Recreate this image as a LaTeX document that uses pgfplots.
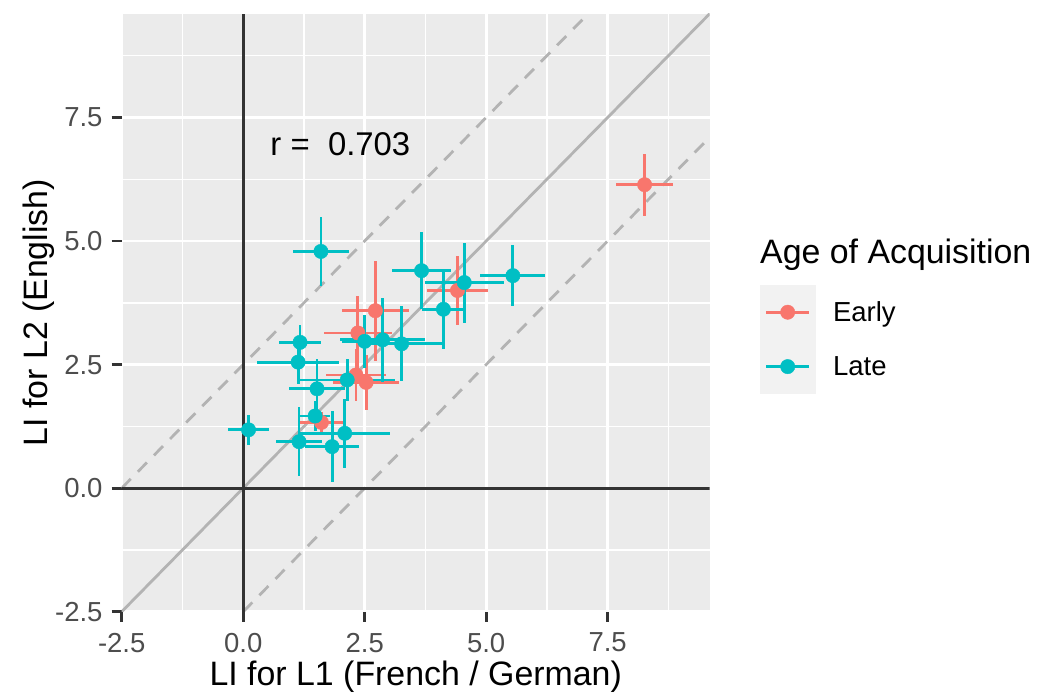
\documentclass[border=0pt]{standalone}
\usepackage{fontspec}
\setmainfont{Liberation Sans}
\usepackage{pgfplots}
\pgfplotsset{compat=1.18}
\usepackage{pgfplotstable}
\definecolor{ggred}{HTML}{F8766D}
\definecolor{ggteal}{HTML}{00BFC4}
\definecolor{panelbg}{HTML}{EBEBEB}
\definecolor{keybg}{HTML}{F2F2F2}
\definecolor{gthirty}{HTML}{4D4D4D}
\definecolor{gtwenty}{HTML}{333333}
\definecolor{refline}{HTML}{B3B3B3}

\pgfplotstableread{
x y ex ey
2.72 3.59 0.69 1.01
2.36 3.14 0.70 0.74
4.41 4.00 0.63 0.69
2.32 2.29 0.62 0.52
2.53 2.14 0.68 0.56
1.61 1.33 0.48 0.22
8.26 6.14 0.59 0.63
}\early

\pgfplotstableread{
x y ex ey
1.60 4.79 0.58 0.69
3.67 4.40 0.60 0.78
4.55 4.16 0.81 0.81
4.12 3.62 0.45 0.80
5.55 4.30 0.67 0.61
3.26 2.92 0.86 0.76
2.50 2.97 0.47 0.54
2.87 3.00 0.88 0.85
2.14 2.19 0.99 0.43
1.13 2.55 0.85 0.45
1.17 2.95 0.43 0.35
1.52 2.01 0.57 0.60
1.48 1.46 0.31 0.31
1.15 0.94 0.48 0.70
1.83 0.84 0.56 0.72
2.09 1.11 0.93 0.70
0.11 1.18 0.43 0.30
}\late

\begin{document}
\begin{tikzpicture}
\path[use as bounding box] (0,0) rectangle (1041bp,694bp);
\begin{axis}[
  at={(121.7bp,82.3bp)}, anchor=south west,
  scale only axis, width=588bp, height=598bp,
  xmin=-2.5, xmax=9.6, ymin=-2.5, ymax=9.6,
  xtick={-2.5,0,2.5,5,7.5}, ytick={-2.5,0,2.5,5,7.5},
  minor xtick={-1.25,1.25,3.75,6.25,8.75},
  minor ytick={-1.25,1.25,3.75,6.25,8.75},
  grid=both,
  major grid style={white, line width=2.8bp},
  minor grid style={white, line width=1.4bp},
  axis background/.style={fill=panelbg},
  axis line style={draw=none},
  tick pos=left, tick align=outside,
  major tick length=10bp, minor tick length=0pt,
  every tick/.style={gtwenty, line width=2.8bp},
  /pgf/number format/.cd, fixed, fixed zerofill, precision=1, assume math mode=true,
  /pgfplots/.cd,
  tick label style={font=\fontsize{27.6}{33}\selectfont, text=gthirty, inner sep=0pt},
  xticklabel shift=11bp, yticklabel shift=9bp,
  xlabel={LI for L1 (French / German)},
  ylabel={LI for L2 (English)},
  label style={font=\fontsize{34}{40}\selectfont, inner sep=0pt},
  xlabel style={at={(axis description cs:0.5,-0.1232)}, anchor=base},
  ylabel style={at={(axis description cs:-0.127,0.5)}, anchor=base, rotate=0},
  legend style={at={(axis description cs:1.0855,0.5463)}, anchor=north west,
    draw=none, fill=none, inner sep=0pt, outer sep=0pt, row sep=0pt,
    column sep=17.7bp, nodes={inner sep=0pt, anchor=west},
    font=\fontsize{27.6}{33}\selectfont},
  legend cell align=left,
  legend image code/.code={
    \fill[keybg] (0bp,-27bp) rectangle (55bp,27bp);
    \draw[#1, line width=2.8bp] (6bp,0bp) -- (49bp,0bp);
    \fill[#1] (27.5bp,0bp) circle (7.2bp);
  },
]
\addplot[refline, line width=2.8bp, forget plot] coordinates {(-2.5,-2.5) (9.6,9.6)};
\addplot[refline, line width=2.8bp, dash pattern=on 13bp off 10bp, forget plot] coordinates {(-2.5,0) (7.1,9.6)};
\addplot[refline, line width=2.8bp, dash pattern=on 13bp off 10bp, forget plot] coordinates {(0,-2.5) (9.6,7.1)};
\addplot[gtwenty, line width=3bp, forget plot] coordinates {(0,-2.5) (0,9.6)};
\addplot[gtwenty, line width=3bp, forget plot] coordinates {(-2.5,0) (9.6,0)};

\addplot[ggred, only marks, mark=*, mark size=7.2bp, mark options={draw=none, fill=ggred}, forget plot,
  error bars/.cd, x dir=both, x explicit, y dir=both, y explicit, error mark=none,
  error bar style={ggred, line width=2.8bp}]
  table[x=x, y=y, x error=ex, y error=ey] {\early};
\addplot[ggteal, only marks, mark=*, mark size=7.2bp, mark options={draw=none, fill=ggteal}, forget plot,
  error bars/.cd, x dir=both, x explicit, y dir=both, y explicit, error mark=none,
  error bar style={ggteal, line width=2.8bp}]
  table[x=x, y=y, x error=ex, y error=ey] {\late};

\node[font=\fontsize{33}{40}\selectfont, anchor=center, inner sep=0pt] at (axis cs:2,6.95) {r =\ \ 0.703};

\addlegendimage{ggred}
\addlegendentry{Early}
\addlegendimage{ggteal}
\addlegendentry{Late}
\end{axis}
\node[anchor=base west, inner sep=0pt, font=\fontsize{34}{40}\selectfont] at (760bp,430bp) {Age of Acquisition};
\end{tikzpicture}
\end{document}
